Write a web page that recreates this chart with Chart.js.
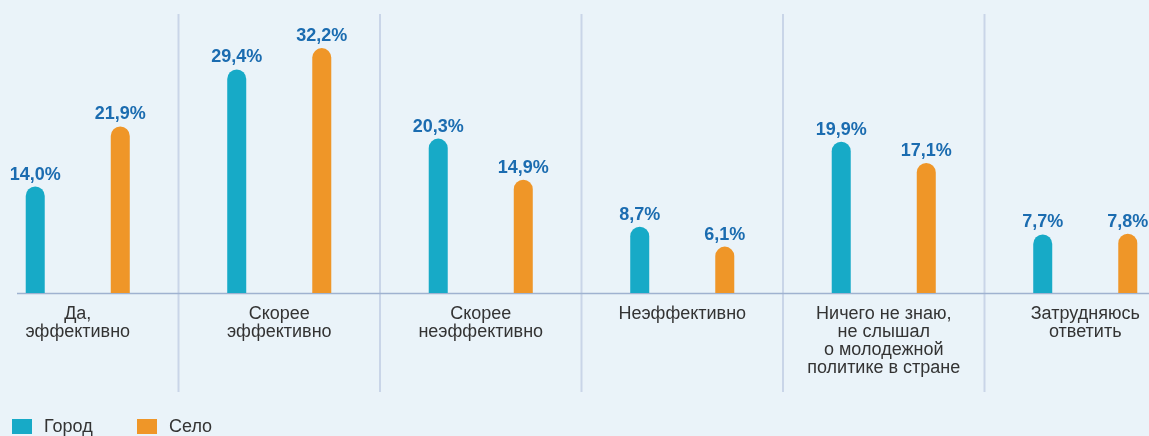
<!DOCTYPE html>
<html lang="ru">
<head>
<meta charset="utf-8">
<title>Эффективность молодежной политики</title>
<script src="https://cdn.jsdelivr.net/npm/chart.js@4.4.1/dist/chart.umd.min.js"></script>
<style>
    html, body {
        margin: 0;
        padding: 0;
        background: #eaf3f9;
        overflow: hidden;
        width: 1149px;
        height: 436px;
        position: relative;
    }
    #chart {
        display: block;
        position: absolute;
        left: -23px;
        top: 0;
    }
</style>
</head>
<body>
<canvas id="chart" width="1209" height="436"></canvas>
<script>
'use strict';

// данные
const categories = [
    ['Да,', 'эффективно'],
    ['Скорее', 'эффективно'],
    ['Скорее', 'неэффективно'],
    ['Неэффективно'],
    ['Ничего не знаю,', 'не слышал', 'о молодежной', 'политике в стране'],
    ['Затрудняюсь', 'ответить']
];
const cityValues = [14.0, 29.4, 20.3, 8.7, 19.9, 7.7];
const villageValues = [21.9, 32.2, 14.9, 6.1, 17.1, 7.8];
const seriesNames = ['Город', 'Село'];
const yMax = 38;

const FONT = "'Liberation Sans', Arial, sans-serif";
// канвас сдвинут влево на 23px, первая категория обрезана краем
const SHIFT = 23;

// подписи значений над столбиками
const valueLabels = {
    id: 'valueLabels',
    afterDatasetsDraw(chart) {
        const ctx = chart.ctx;
        ctx.save();
        ctx.font = 'bold 18px ' + FONT;
        ctx.fillStyle = '#1b6cb0';
        ctx.textAlign = 'center';
        ctx.textBaseline = 'alphabetic';
        chart.data.datasets.forEach((ds, i) => {
            chart.getDatasetMeta(i).data.forEach((bar, j) => {
                const text = ds.data[j].toFixed(1).replace('.', ',') + '%';
                ctx.fillText(text, bar.x, bar.y - 7);
            });
        });
        ctx.restore();
    }
};

// вертикальные разделители и линия оси
const separators = {
    id: 'separators',
    beforeDatasetsDraw(chart) {
        const ctx = chart.ctx;
        const x = chart.scales.x;
        const area = chart.chartArea;
        ctx.save();
        ctx.strokeStyle = '#c9d5e8';
        ctx.lineWidth = 2;
        for (let i = 1; i < categories.length; i++) {
            const px = (x.getPixelForValue(i - 1) + x.getPixelForValue(i)) / 2;
            ctx.beginPath();
            ctx.moveTo(px, 14);
            ctx.lineTo(px, 392);
            ctx.stroke();
        }
        ctx.strokeStyle = '#9fb2d0';
        ctx.lineWidth = 1.5;
        ctx.beginPath();
        ctx.moveTo(area.left + SHIFT + 17, area.bottom + 0.5);
        ctx.lineTo(chart.width, area.bottom + 0.5);
        ctx.stroke();
        ctx.restore();
    }
};

// легенда внизу слева
const bottomLegend = {
    id: 'bottomLegend',
    afterDraw(chart) {
        const ctx = chart.ctx;
        ctx.save();
        ctx.font = '18px ' + FONT;
        ctx.textBaseline = 'middle';
        ctx.textAlign = 'left';
        let x = SHIFT + 12;
        const y = chart.height - 17;
        chart.data.datasets.forEach(ds => {
            ctx.fillStyle = ds.backgroundColor;
            ctx.fillRect(x, y, 20, 15);
            ctx.fillStyle = '#333333';
            ctx.fillText(ds.label, x + 32, y + 8);
            x += 125;
        });
        ctx.restore();
    }
};

const chart = new Chart(document.getElementById('chart'), {
    type: 'bar',
    data: {
        labels: categories,
        datasets: [{
            label: seriesNames[0],
            data: cityValues,
            backgroundColor: '#17aac7'
        }, {
            label: seriesNames[1],
            data: villageValues,
            backgroundColor: '#ef9628'
        }]
    },
    options: {
        responsive: false,
        animation: false,
        devicePixelRatio: 1,
        layout: {
            padding: { left: 0, right: 0, top: 4, bottom: 53 }
        },
        datasets: {
            bar: {
                categoryPercentage: 0.844,
                barPercentage: 0.2235,
                borderRadius: { topLeft: 9.5, topRight: 9.5 },
                borderSkipped: 'start'
            }
        },
        plugins: {
            tooltip: { enabled: false },
            legend: { display: false }
        },
        scales: {
            x: {
                grid: { display: false, drawTicks: false },
                border: { display: false },
                ticks: {
                    color: '#333333',
                    padding: 12,
                    maxRotation: 0,
                    autoSkip: false,
                    font: { family: FONT, size: 18, lineHeight: 1.0 }
                },
                afterFit(scale) {
                    scale.height = 90;
                }
            },
            y: {
                display: false,
                min: 0,
                max: yMax
            }
        }
    },
    plugins: [separators, valueLabels, bottomLegend]
});
</script>
</body>
</html>
